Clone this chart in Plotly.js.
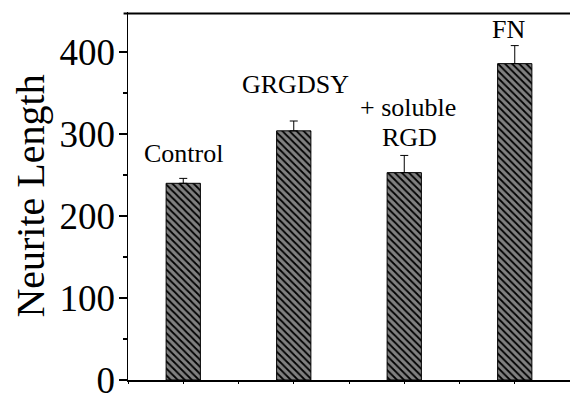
<!DOCTYPE html>
<html><head><meta charset="utf-8">
<script src="https://cdn.plot.ly/plotly-3.0.1.min.js"></script>
<style>html,body{margin:0;padding:0;background:#fff;overflow:hidden}</style>
</head><body><div id="chart" style="width:570px;height:393px"></div>
<script>
const categories = ["Control", "GRGDSY", "+ soluble RGD", "FN"];
const neuriteLength = [240, 304, 253, 386];
const errorUp = [6, 12, 21, 22];
const yTickVals = [0, 100, 200, 300, 400];

const xPos = categories.map((c, i) => i + 1);
const font = "Liberation Serif";

const trace = {
  type: "bar",
  x: xPos,
  y: neuriteLength,
  width: 0.31,
  marker: {
    color: "#808080",
    line: {color: "#000", width: 1},
    pattern: {shape: "\\", fgcolor: "#000", bgcolor: "#808080", size: 5, solidity: 0.35}
  },
  error_y: {type: "data", symmetric: false, array: errorUp, arrayminus: errorUp.map(() => 0),
            color: "#000", thickness: 1, width: 4},
  hoverinfo: "none"
};

const ann = (x, y, text, xshift) => ({x, y, text, xref: "x", yref: "y", showarrow: false,
  xanchor: "center", yanchor: "middle", xshift: xshift || 0,
  font: {family: font, size: 26, color: "#000"}});

const layout = {
  width: 570, height: 393,
  margin: {l: 128, r: 0, t: 12, b: 13},
  paper_bgcolor: "#fff", plot_bgcolor: "#fff",
  showlegend: false,
  font: {family: font, color: "#000"},
  xaxis: {
    range: [0.5, 4.5], showticklabels: false, showgrid: false, zeroline: false,
    tickmode: "linear", tick0: 0.5, dtick: 0.5, ticks: "outside", ticklen: 2,
    tickwidth: 1, tickcolor: "#000",
    showline: true, linecolor: "#000", linewidth: 1.5
  },
  yaxis: {
    range: [0, 449], tickvals: yTickVals, ticktext: yTickVals.map(String),
    showgrid: false, zeroline: false, ticklabeloverflow: "allow",
    ticks: "outside", ticklen: 8, tickwidth: 1.5, tickcolor: "#000",
    minor: {dtick: 50, ticks: "outside", ticklen: 4, tickwidth: 1.5, tickcolor: "#000", showgrid: false},
    tickfont: {family: font, size: 37, color: "#000"}, ticklabelstandoff: -4,
    showline: true, linecolor: "#000", linewidth: 1.5,
    title: {text: "Neurite Length", font: {family: font, size: 40, color: "#000"}, standoff: 2}
  },
  shapes: [
    {type: "line", xref: "paper", yref: "paper", x0: -0.01, x1: 1, y0: 0.996, y1: 0.996,
     line: {color: "#000", width: 2}, layer: "above"}
  ],
  annotations: [
    ann(1, 276, categories[0], 0),
    ann(2, 360, categories[1], 2),
    ann(3, 333, "+ soluble", 4),
    ann(3, 296, "RGD", 5),
    ann(4, 428, categories[3], -6)
  ]
};

Plotly.newPlot("chart", [trace], layout, {displayModeBar: false, staticPlot: true});
</script></body></html>
